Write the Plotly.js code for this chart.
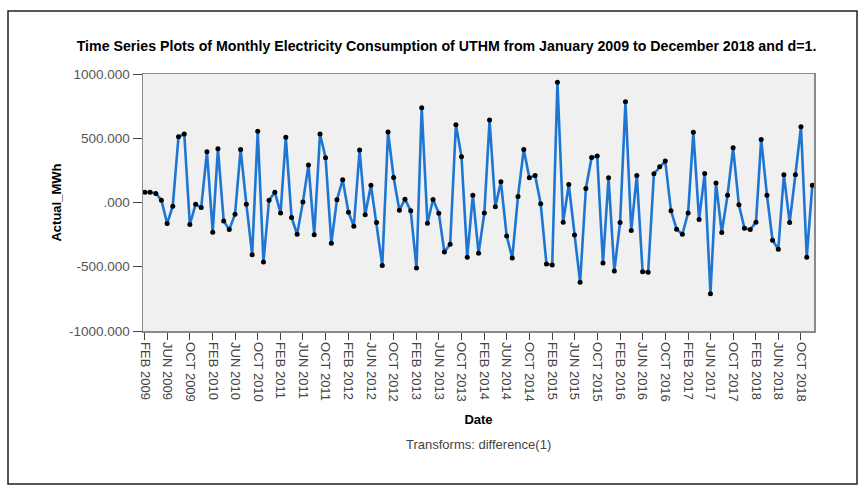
<!DOCTYPE html>
<html>
<head>
<meta charset="utf-8">
<script src="https://cdn.plot.ly/plotly-3.0.1.min.js"></script>
<style>
  html, body { margin: 0; padding: 0; background: #ffffff; }
  #chart { width: 863px; height: 486px; }
</style>
</head>
<body>
<div id="chart"></div>
<script>
// First month of the differenced series and monthly values (MWh, difference(1))
const startYear = 2009;
const startMonth = 2; // February
const values2009 = [80, 80, 70, 18, -164, -29, 512, 533, -172, -13, -39];
const values2010 = [395, -231, 419, -143, -211, -91, 413, -13, -406, 554, -463, 18];
const values2011 = [80, -81, 507, -117, -247, 3, 291, -250, 533, 348, -317, 21];
const values2012 = [177, -75, -185, 408, -96, 135, -156, -491, 549, 195, -60, 26];
const values2013 = [-65, -510, 738, -161, 23, -83, -385, -325, 606, 356, -426, 57];
const values2014 = [-395, -81, 642, -34, 161, -260, -432, 47, 413, 192, 211, -10];
const values2015 = [-478, -486, 936, -153, 140, -252, -621, 109, 351, 361, -471, 192];
const values2016 = [-533, -156, 785, -218, 211, -538, -543, 224, 278, 322, -65, -208];
const values2017 = [-247, -81, 546, -133, 226, -710, 151, -234, 57, 426, -18, -200];
const values2018 = [-211, -153, 491, 57, -294, -364, 216, -156, 216, 590, -426, 135];

const xTickLabels = [
  'FEB 2009','JUN 2009','OCT 2009','FEB 2010','JUN 2010','OCT 2010',
  'FEB 2011','JUN 2011','OCT 2011','FEB 2012','JUN 2012','OCT 2012',
  'FEB 2013','JUN 2013','OCT 2013','FEB 2014','JUN 2014','OCT 2014',
  'FEB 2015','JUN 2015','OCT 2015','FEB 2016','JUN 2016','OCT 2016',
  'FEB 2017','JUN 2017','OCT 2017','FEB 2018','JUN 2018','OCT 2018'
];
const yTickValues = [1000, 500, 0, -500, -1000];
const yTickLabels = ['1000.000', '500.000', '.000', '-500.000', '-1000.000'];

const values = [].concat(values2009, values2010, values2011, values2012, values2013,
                         values2014, values2015, values2016, values2017, values2018);

function monthStr(y, m) { return y + '-' + String(m).padStart(2, '0') + '-01'; }
const dates = values.map((v, i) => {
  const t = (startMonth - 1) + i;
  return monthStr(startYear + Math.floor(t / 12), (t % 12) + 1);
});
const monthNames = ['JAN','FEB','MAR','APR','MAY','JUN','JUL','AUG','SEP','OCT','NOV','DEC'];
const xTickVals = xTickLabels.map(s => {
  const [mn, yr] = s.split(' ');
  return monthStr(+yr, monthNames.indexOf(mn) + 1);
});

// plot-area geometry used for the outer frame (paper coords)
const W = 863, H = 486, mL = 143, mR = 49, mT = 74, mB = 155;
const pw = W - mL - mR, ph = H - mT - mB;
const fx0 = (8 - mL) / pw, fx1 = (857 - mL) / pw;
const fy1 = (H - mB - 11) / ph, fy0 = (H - mB - 484) / ph;

const trace = {
  x: dates,
  y: values,
  type: 'scatter',
  mode: 'lines+markers',
  line: { color: 'rgb(30,118,210)', width: 2.6 },
  marker: { color: '#000000', size: 5 },
  hoverinfo: 'x+y'
};

const layout = {
  width: W, height: H,
  margin: { l: mL, r: mR, t: mT, b: mB },
  paper_bgcolor: '#ffffff',
  plot_bgcolor: '#f0f0f0',
  font: { family: 'Liberation Sans, Arial, sans-serif', color: '#000' },
  title: {
    text: 'Time Series Plots of Monthly Electricity Consumption of UTHM from January 2009 to December 2018 and d=1.',
    font: { size: 14.2, family: 'Liberation Sans, Arial, sans-serif', weight: 'bold', color: '#000' },
    xref: 'container', x: 446.5 / W, xanchor: 'center',
    yref: 'container', y: 1 - 46 / H, yanchor: 'middle'
  },
  xaxis: {
    type: 'date',
    range: ['2009-01-22', '2018-12-10'],
    tickmode: 'array',
    tickvals: xTickVals,
    ticktext: xTickLabels,
    tickangle: 90,
    ticks: 'outside', ticklen: 7, tickcolor: '#444', tickwidth: 1,
    tickfont: { size: 13, color: '#444' },
    showgrid: false, zeroline: false,
    showline: true, mirror: true, linecolor: '#8a8a8a', linewidth: 1.5,
    title: { text: 'Date', font: { size: 13, weight: 'bold', color: '#000' }, standoff: 14 }
  },
  yaxis: {
    range: [-1000, 1000],
    tickmode: 'array',
    tickvals: yTickValues,
    ticktext: yTickLabels,
    ticks: 'outside', ticklen: 9, tickcolor: '#444', tickwidth: 1,
    tickfont: { size: 13.5, color: '#555' },
    showgrid: false, zeroline: false,
    showline: true, mirror: true, linecolor: '#8a8a8a', linewidth: 1.5,
    title: { text: 'Actual_MWh', font: { size: 13, weight: 'bold', color: '#000' }, standoff: 4 }
  },
  annotations: [{
    text: 'Transforms: difference(1)',
    xref: 'paper', yref: 'paper',
    x: 0.5, y: (H - mB - 444) / ph,
    xanchor: 'center', yanchor: 'middle',
    showarrow: false,
    font: { size: 13, color: '#444' }
  }],
  shapes: [{
    type: 'rect', xref: 'paper', yref: 'paper',
    x0: fx0, x1: fx1, y0: fy0, y1: fy1,
    line: { color: '#222', width: 1.5 },
    fillcolor: 'rgba(0,0,0,0)',
    layer: 'below'
  }],
  showlegend: false
};

Plotly.newPlot('chart', [trace], layout, { displayModeBar: false, staticPlot: true });
</script>
</body>
</html>
